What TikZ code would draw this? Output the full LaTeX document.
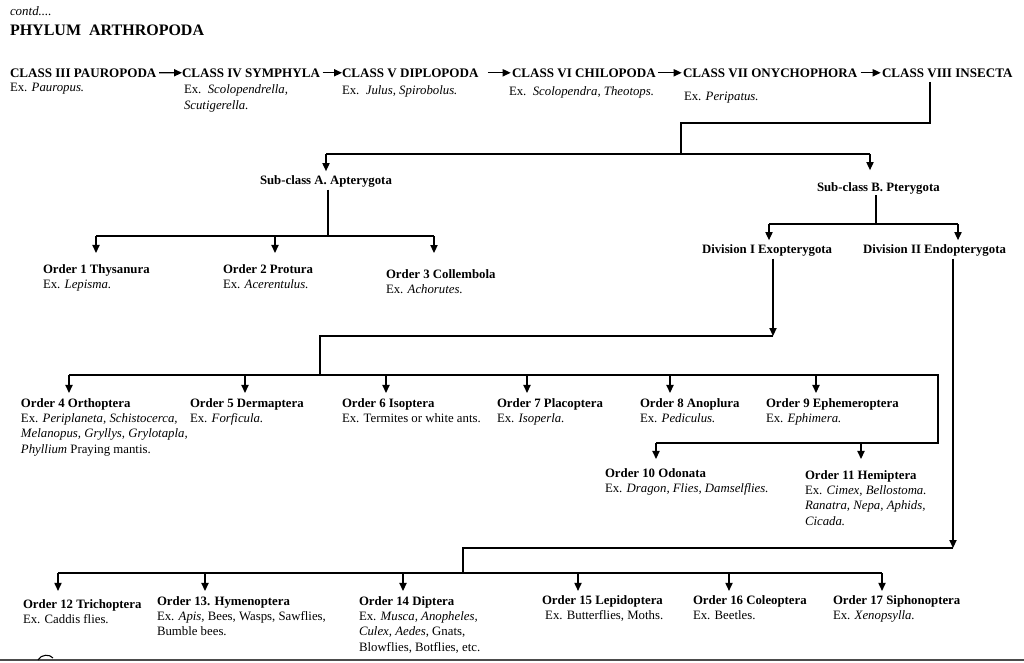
\documentclass[tikz,border=0pt]{standalone}
\usepackage{fontspec}
\setmainfont{Liberation Serif}
\usetikzlibrary{arrows.meta}
\newcommand\mylines[1]{\begin{tabular}[t]{@{}l@{}}#1\end{tabular}}
\begin{document}
\begin{tikzpicture}[x=0.75pt,y=-0.75pt,
  every node/.style={inner sep=0pt, outer sep=0pt},
  ord/.style={anchor=base west, align=left, font=\fontsize{9.6}{11.6}\selectfont},
  hd/.style={anchor=base west, font=\fontsize{9.6}{11.6}\selectfont\bfseries},
  cls/.style={anchor=base west, font=\fontsize{9.8}{11.6}\selectfont\bfseries},
  ln/.style={line width=0.9pt, black},
  arr/.style={ln, -{Triangle[width=5.4pt,length=6pt]}, shorten >=#1},
  arr/.default=2.4pt,
]
\useasboundingbox (0,0) rectangle (1024,662);

% ---------- header ----------
\node[ord, font=\fontsize{9.7}{11.6}\selectfont\itshape] (contd) at (10,15) {contd....};
\node[anchor=base west, font=\fontsize{12}{14}\selectfont\bfseries] (phylum) at (10,35) {PHYLUM~~ARTHROPODA};

% ---------- classes ----------
\node[cls] (c3) at (10,77)  {CLASS III PAUROPODA};
\node[cls] (c4) at (182,77) {CLASS IV SYMPHYLA};
\node[cls] (c5) at (342,77) {CLASS V DIPLOPODA};
\node[cls] (c6) at (512,77) {CLASS VI CHILOPODA};
\node[cls] (c7) at (683,77) {CLASS VII ONYCHOPHORA};
\node[cls] (c8) at (882,77) {CLASS VIII INSECTA};

\node[ord] (e3) at (10,91)  {Ex. \textit{Pauropus.}};
\node[ord, font=\fontsize{9.6}{12.6}\selectfont] (e4) at (184,93) {\mylines{Ex.\ \ \textit{Scolopendrella,}\\\textit{Scutigerella.}}};
\node[ord] (e5) at (342,94) {Ex.\ \ \textit{Julus, Spirobolus.}};
\node[ord] (e6) at (509,95) {Ex.\ \ \textit{Scolopendra, Theotops.}};
\node[ord] (e7) at (684,100) {Ex. \textit{Peripatus.}};

\draw[arr=0pt, shorten <=2pt] (c3) -- (c4);
\draw[arr=0pt, shorten <=2pt] (c4) -- (c5);
\draw[arr=1pt, shorten <=7pt] (c5) -- (c6);
\draw[arr=1pt, shorten <=2pt] (c6) -- (c7);
\draw[arr=1pt, shorten <=2.5pt] (c7) -- (c8);

% ---------- sub-classes ----------
\node[hd] (sA) at (260,184) {Sub-class A. Apterygota};
\node[hd] (sB) at (817,191) {Sub-class B. Pterygota};

\coordinate (k1) at (930,123);
\coordinate (k2) at (681,123);
\coordinate (k3) at (681,154);
\coordinate (qA) at (326,154);
\coordinate (qB) at (870,154);
\draw[ln, shorten <=3.5pt] (c8.south -| k1) -- (k1) -- (k2) -- (k3);
\draw[ln] (qA) -- (qB);
\draw[arr=3pt] (qA) -- (qA |- sA.north);
\draw[arr=9pt] (qB) -- (qB |- sB.north);

% ---------- Apterygota orders ----------
\node[ord] (o1) at (43,273)  {\mylines{\textbf{Order 1 Thysanura}\\Ex. \textit{Lepisma.}}};
\node[ord] (o2) at (223,273) {\mylines{\textbf{Order 2 Protura}\\Ex. \textit{Acerentulus.}}};
\node[ord] (o3) at (386,278) {\mylines{\textbf{Order 3 Collembola}\\Ex. \textit{Achorutes.}}};

\coordinate (a0) at (328,236);
\coordinate (q1) at (96,236);
\coordinate (q2) at (275,236);
\coordinate (q3) at (434,236);
\draw[ln, shorten <=2pt] (sA.south -| a0) -- (a0);
\draw[ln] (q1) -- (q3);
\draw[arr=6.9pt] (q1) -- (q1 |- o1.north);
\draw[arr=6.9pt] (q2) -- (q2 |- o2.north);
\draw[arr=10.6pt] (q3) -- (q3 |- o3.north);

% ---------- divisions ----------
\node[hd] (d1) at (702,253) {Division I Exopterygota};
\node[hd] (d2) at (863,253) {Division II Endopterygota};

\coordinate (b0) at (876,224);
\coordinate (qd1) at (769,224);
\coordinate (qd2) at (958,224);
\draw[ln, shorten <=1pt] (sB.south -| b0) -- (b0);
\draw[ln] (qd1) -- (qd2);
\draw[arr=3pt] (qd1) -- (qd1 |- d1.north);
\draw[arr=3pt] (qd2) -- (qd2 |- d2.north);

% ---------- Exopterygota orders ----------
\node[ord] (o4) at (21,407)  {\mylines{\textbf{Order 4 Orthoptera}\\Ex. \textit{Periplaneta, Schistocerca,}\\\textit{Melanopus, Gryllys, Grylotapla,}\\\textit{Phyllium} Praying mantis.}};
\node[ord] (o5) at (190,407) {\mylines{\textbf{Order 5 Dermaptera}\\Ex. \textit{Forficula.}}};
\node[ord] (o6) at (342,407) {\mylines{\textbf{Order 6 Isoptera}\\Ex. Termites or white ants.}};
\node[ord] (o7) at (497,407) {\mylines{\textbf{Order 7 Placoptera}\\Ex. \textit{Isoperla.}}};
\node[ord] (o8) at (640,407) {\mylines{\textbf{Order 8 Anoplura}\\Ex. \textit{Pediculus.}}};
\node[ord] (o9) at (766,407) {\mylines{\textbf{Order 9 Ephemeroptera}\\Ex. \textit{Ephimera.}}};
\node[ord] (o10) at (605,477) {\mylines{\textbf{Order 10 Odonata}\\Ex. \textit{Dragon, Flies, Damselflies.}}};
\node[ord] (o11) at (805,479) {\mylines{\textbf{Order 11 Hemiptera}\\Ex. \textit{Cimex, Bellostoma.}\\\textit{Ranatra, Nepa, Aphids,}\\\textit{Cicada.}}};

\coordinate (x1) at (773,336);
\coordinate (x2) at (320,336);
\coordinate (x3) at (320,375);
\coordinate (q4) at (69,375);
\coordinate (q5) at (245,375);
\coordinate (q6) at (386,375);
\coordinate (q7) at (527,375);
\coordinate (q8) at (670,375);
\coordinate (q9) at (816,375);
\coordinate (x4) at (938,375);
\coordinate (x5) at (938,443);
\coordinate (q10) at (656,443);
\coordinate (q11) at (861,443);
\draw[arr=0pt, shorten <=2pt] (d1.south -| x1) -- (x1);
\draw[ln] (x1) -- (x2) -- (x3);
\draw[ln] (q4) -- (x4) -- (x5) -- (q10);
\draw[arr] (q4) -- (q4 |- o4.north);
\draw[arr] (q5) -- (q5 |- o5.north);
\draw[arr] (q6) -- (q6 |- o6.north);
\draw[arr] (q7) -- (q7 |- o7.north);
\draw[arr] (q8) -- (q8 |- o8.north);
\draw[arr] (q9) -- (q9 |- o9.north);
\draw[arr=5.4pt] (q10) -- (q10 |- o10.north);
\draw[arr=6.9pt] (q11) -- (q11 |- o11.north);

% ---------- Endopterygota orders ----------
\node[ord] (o12) at (23,608)  {\mylines{\textbf{Order 12 Trichoptera}\\Ex. Caddis flies.}};
\node[ord] (o13) at (157,605) {\mylines{\textbf{Order 13. Hymenoptera}\\Ex. \textit{Apis}, Bees, Wasps, Sawflies,\\Bumble bees.}};
\node[ord] (o14) at (359,605) {\mylines{\textbf{Order 14 Diptera}\\Ex. \textit{Musca, Anopheles,}\\\textit{Culex, Aedes}, Gnats,\\Blowflies, Botflies, etc.}};
\node[ord] (o15) at (542,604) {\mylines{\textbf{Order 15 Lepidoptera}\\\ Ex. Butterflies, Moths.}};
\node[ord] (o16) at (693,604) {\mylines{\textbf{Order 16 Coleoptera}\\Ex. Beetles.}};
\node[ord] (o17) at (833,604) {\mylines{\textbf{Order 17 Siphonoptera}\\Ex. \textit{Xenopsylla.}}};

\coordinate (y1) at (953,548);
\coordinate (y2) at (463,548);
\coordinate (y3) at (463,573);
\coordinate (q12) at (58,573);
\coordinate (q13) at (205,573);
\coordinate (q14) at (403,573);
\coordinate (q15) at (578,573);
\coordinate (q16) at (729,573);
\coordinate (q17) at (882,573);
\draw[arr=0pt, shorten <=2pt] (d2.south -| y1) -- (y1);
\draw[ln] (y1) -- (y2) -- (y3);
\draw[ln] (q12) -- (q17);
\draw[arr=4.7pt] (q12) -- (q12 |- o12.north);
\draw[arr] (q13) -- (q13 |- o13.north);
\draw[arr] (q14) -- (q14 |- o14.north);
\draw[arr=1.7pt] (q15) -- (q15 |- o15.north);
\draw[arr=1.7pt] (q16) -- (q16 |- o16.north);
\draw[arr=1.7pt] (q17) -- (q17 |- o17.north);

% ---------- page foot ----------
\draw[line width=2pt, black!70] (0,660) -- (1024,660);
\draw[line width=0.8pt] (38,660) .. controls (41,654) and (50,654) .. (53,658);
\end{tikzpicture}
\end{document}
